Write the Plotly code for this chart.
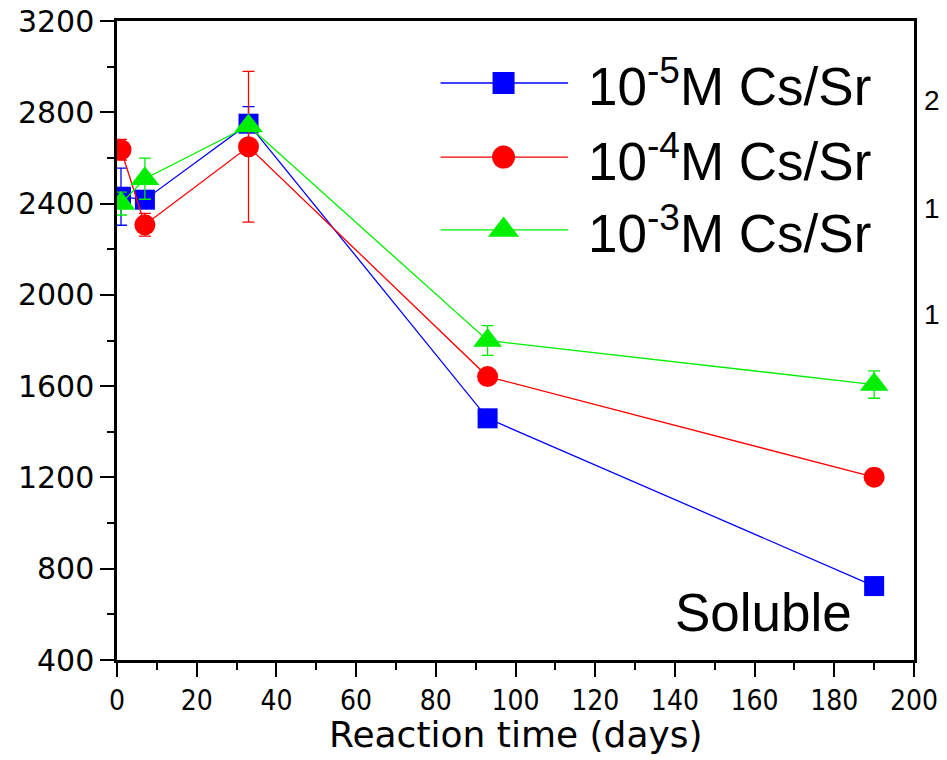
import plotly.graph_objects as go

# ---- data ----
days = [1, 7, 33, 93, 190]
cs5 = [2430, 2417, 2750, 1459, 724]
cs5_err = [125, 15, 75, 15, 15]
cs4 = [2636, 2307, 2649, 1642, 1201]
cs4_err = [45, 50, 330, 20, 35]
cs3 = [2400, 2509, 2740, 1800, 1607]
cs3_err = [50, 90, 20, 65, 60]
names = ["10<sup>-5</sup>M Cs/Sr", "10<sup>-4</sup>M Cs/Sr", "10<sup>-3</sup>M Cs/Sr"]
colors = ["#0000ff", "#ff0000", "#00ee00"]
symbols = ["square", "circle", "triangle-up"]
sizes = [20, 21, 25]
right_labels = ["2", "1", "1"]
x_title = "Reaction time (days)"

fig = go.Figure()
series = [(cs5, cs5_err), (cs4, cs4_err), (cs3, cs3_err)]
for (vals, errs), name, c, s, sz in zip(series, names, colors, symbols, sizes):
    fig.add_trace(go.Scatter(
        x=days, y=vals, mode="lines+markers", name=name, showlegend=False,
        line=dict(color=c, width=1.3),
        marker=dict(symbol=s, size=sz, color=c, line=dict(width=0)),
        error_y=dict(type="data", array=errs, color=c, thickness=1.3, width=6),
    ))

# manual legend (long sample lines as in the original)
leg_y = [0.903, 0.787, 0.673]
for ly, name, c, s, sz in zip(leg_y, names, colors, symbols, sizes):
    fig.add_shape(type="line", xref="paper", yref="paper", x0=0.406, x1=0.566,
                  y0=ly, y1=ly, line=dict(color=c, width=1.3))
    fig.add_trace(go.Scatter(x=[0.485], y=[ly], xaxis="x2", yaxis="y2", mode="markers",
                             showlegend=False, hoverinfo="skip",
                             marker=dict(symbol=s, size=sz + 2, color=c, line=dict(width=0))))
    fig.add_annotation(x=0.588, y=ly, xref="paper", yref="paper", text=name,
                       showarrow=False, xanchor="left", yanchor="middle",
                       font=dict(family="Liberation Sans, Arial", size=53, color="black"))

fig.add_annotation(x=0.925, y=0.075, xref="paper", yref="paper", text="Soluble",
                   showarrow=False, xanchor="right", yanchor="middle",
                   font=dict(family="Liberation Sans, Arial", size=53, color="black"))

for ry, t in zip([0.876, 0.707, 0.540], right_labels):
    fig.add_annotation(x=1.010, y=ry, xref="paper", yref="paper", text=t,
                       showarrow=False, xanchor="left", yanchor="middle",
                       font=dict(family="Liberation Sans, Arial", size=28, color="black"))

narrow = "Liberation Sans Narrow, Arial Narrow, DejaVu Sans Condensed, sans-serif"

fig.add_annotation(x=0.50, y=-0.116, xref="paper", yref="paper", text=x_title,
                   showarrow=False, xanchor="center", yanchor="middle",
                   font=dict(family="DejaVu Sans, sans-serif", size=36, color="black"))

fig.update_layout(
    width=947, height=760,
    margin=dict(l=117, r=33, t=21, b=100, autoexpand=False),
    paper_bgcolor="white", plot_bgcolor="white",
    xaxis=dict(range=[0, 200], tick0=0, dtick=20, ticks="outside", ticklen=14,
               tickwidth=2, tickcolor="black", showline=True, linecolor="black",
               linewidth=2.5, mirror=True, showgrid=False, zeroline=False, automargin=False,
               tickfont=dict(family=narrow, size=28, color="black"),
               minor=dict(dtick=10, ticks="outside", ticklen=7, tickwidth=2, tickcolor="black")),
    yaxis=dict(range=[400, 3200], tick0=400, dtick=400, ticks="outside", ticklen=14,
               tickwidth=2, tickcolor="black", showline=True, linecolor="black",
               linewidth=2.5, mirror=True, showgrid=False, zeroline=False, automargin=False,
               tickfont=dict(family="DejaVu Sans, sans-serif", size=30, color="black"),
               minor=dict(dtick=200, ticks="outside", ticklen=7, tickwidth=2, tickcolor="black")),
    xaxis2=dict(overlaying="x", range=[0, 1], visible=False, fixedrange=True),
    yaxis2=dict(overlaying="y", range=[0, 1], visible=False, fixedrange=True),
)

fig.write_html("out.html", config={"displayModeBar": False},
               post_script="document.body.style.margin='0';document.body.style.overflow='hidden';")
